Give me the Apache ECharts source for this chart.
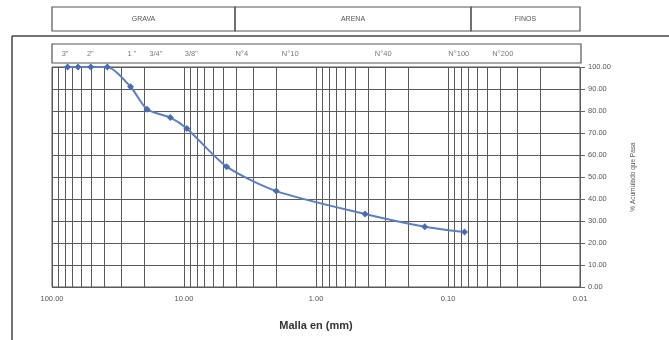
<!DOCTYPE html>
<html><head><meta charset="utf-8">
<script src="https://cdn.jsdelivr.net/npm/echarts@6/dist/echarts.min.js"></script>
<style>html,body{margin:0;padding:0;background:#fff}#c{width:669px;height:340px}</style>
</head><body><div id="c"></div>
<script>
// Sieve openings (mm) and % passing
const sieveSizes = [76.2, 63.5, 50.8, 38.1, 25.4, 19.05, 12.7, 9.525, 4.75, 2.0, 0.425, 0.15, 0.075];
const percentPassing = [100, 100, 100, 100, 91.0, 80.8, 77.0, 72.1, 54.7, 43.6, 33.2, 27.4, 25.0];
// Sieve names shown in the top strip and where they are written (mm)
const sieveLabels = ['3"', '2"', '1 "', '3/4"', '3/8"', 'N°4', 'N°10', 'N°40', 'N°100', 'N°200'];
const sieveLabelAt = [79.6, 51.3, 24.9, 16.4, 8.85, 3.67, 1.58, 0.313, 0.084, 0.039];
const xTicks = [100, 10, 1, 0.1, 0.01];
const yTicks = [0, 10, 20, 30, 40, 50, 60, 70, 80, 90, 100];
const soilClasses = ['GRAVA', 'ARENA', 'FINOS'];

// minor log grid lines (2..9 x 10^k)
const minorLines = [];
[0.01, 0.1, 1, 10].forEach(d => { for (let m = 2; m <= 9; m++) minorLines.push(+(m * d).toPrecision(3)); });

const FONT = 'Liberation Sans';
const chart = echarts.init(document.getElementById('c'), null, {renderer: 'canvas'});

const L = 52, R = 580, W = 669;
const hdrBounds = [L, 235, 471, R];

const graphics = [
  {type: 'line', shape: {x1: 12, y1: 36, x2: 669, y2: 36}, style: {stroke: '#444', lineWidth: 1.5}},
  {type: 'line', shape: {x1: 12, y1: 36, x2: 12, y2: 340}, style: {stroke: '#444', lineWidth: 1.5}}
];
soilClasses.forEach((s, i) => {
  const x0 = hdrBounds[i], x1 = hdrBounds[i + 1];
  graphics.push({type: 'rect', shape: {x: x0, y: 7, width: x1 - x0, height: 24},
    style: {fill: 'none', stroke: '#555', lineWidth: 1.2}});
  graphics.push({type: 'text', x: (x0 + x1) / 2, y: 19,
    style: {text: s, fill: '#555', font: '7px ' + FONT, textAlign: 'center', textVerticalAlign: 'middle'}});
});

chart.setOption({
  animation: false,
  backgroundColor: '#fff',
  textStyle: {fontFamily: FONT},
  graphic: graphics,
  grid: [
    {left: L, right: W - R, top: 67, bottom: 53, show: true, borderColor: '#555', borderWidth: 1},
    {left: L, right: W - R - 1, top: 44, height: 19, show: true, borderColor: '#555', borderWidth: 1.2}
  ],
  xAxis: [
    {type: 'log', logBase: 10, min: 0.01, max: 100, inverse: true, gridIndex: 0,
     axisLine: {show: false}, axisTick: {show: false},
     splitLine: {show: true, lineStyle: {color: '#5a5a5a', width: 1}},
     axisLabel: {fontSize: 7.5, color: '#555', margin: 8,
       formatter: v => xTicks.indexOf(+v) >= 0 ? (+v).toFixed(2) : ''},
     name: 'Malla en (mm)', nameLocation: 'middle', nameGap: 33,
     nameTextStyle: {fontSize: 11, fontWeight: 'bold', color: '#333'}},
    {type: 'log', logBase: 10, min: 0.01, max: 100, inverse: true, gridIndex: 1, show: false}
  ],
  yAxis: [
    {type: 'value', min: 0, max: 100, interval: 10, position: 'right', gridIndex: 0,
     axisLine: {show: false},
     axisTick: {show: true, length: 5, lineStyle: {color: '#666'}},
     splitLine: {show: true, lineStyle: {color: '#5a5a5a', width: 1}},
     axisLabel: {fontSize: 7.5, color: '#555', margin: 8, formatter: v => (+v).toFixed(2)},
     name: '% Acumulado que Pasa', nameLocation: 'middle', nameGap: 50, nameRotate: 90,
     nameTextStyle: {fontSize: 6.5, color: '#555'}},
    {type: 'value', min: 0, max: 1, gridIndex: 1, show: false}
  ],
  series: [
    {type: 'line', xAxisIndex: 0, yAxisIndex: 0,
     data: sieveSizes.map((s, i) => [s, percentPassing[i]]),
     smooth: 0.25, symbol: 'diamond', symbolSize: 7,
     lineStyle: {color: '#5b7fc0', width: 2},
     itemStyle: {color: '#4a6db0'},
     z: 5,
     markLine: {silent: true, symbol: 'none', label: {show: false},
       lineStyle: {color: '#5a5a5a', width: 1, type: 'solid'},
       data: minorLines.map(v => ({xAxis: v}))}},
    {type: 'scatter', xAxisIndex: 1, yAxisIndex: 1, symbolSize: 0,
     data: sieveLabelAt.map((v, i) => ({value: [v, 0.5], name: sieveLabels[i]})),
     label: {show: true, position: 'inside', formatter: p => p.name, fontSize: 7.5, color: '#555'}}
  ]
});
</script></body></html>
